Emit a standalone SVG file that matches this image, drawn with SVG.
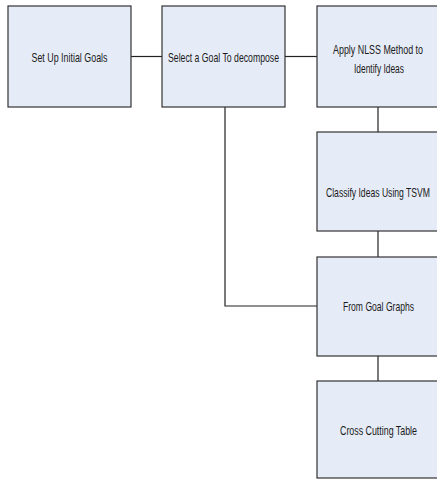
<svg xmlns="http://www.w3.org/2000/svg" width="437" height="479" viewBox="0 0 437 479">
<style>
.box{fill:#E6ECF7;stroke:#333333;stroke-width:1.2}
.lbl{font-family:"Liberation Sans",Arial,sans-serif;font-size:13px;fill:#1a1a1a;text-anchor:middle}
.con{fill:none;stroke:#222222;stroke-width:1.2}
</style>
<rect width="437" height="479" fill="#ffffff"/>
<g id="connectors">
<path class="con" d="M131,56.5 H162"/>
<path class="con" d="M285,56.5 H317"/>
<path class="con" d="M225,107 V306 H317"/>
<path class="con" d="M378,107 V132"/>
<path class="con" d="M378,231 V257"/>
<path class="con" d="M378,356 V381"/>
</g>
<g id="n1">
<rect class="box" x="8" y="6" width="123" height="101"/>
<text class="lbl" x="69.5" y="62" textLength="76" lengthAdjust="spacingAndGlyphs">Set Up Initial Goals</text>
</g>
<g id="n2">
<rect class="box" x="162" y="6" width="123" height="101"/>
<text class="lbl" x="223.5" y="62" textLength="111" lengthAdjust="spacingAndGlyphs">Select a Goal To decompose</text>
</g>
<g id="n3">
<rect class="box" x="317" y="6" width="123" height="101"/>
<text class="lbl" x="378" y="54" textLength="90" lengthAdjust="spacingAndGlyphs">Apply NLSS Method to</text>
<text class="lbl" x="379" y="73" textLength="50" lengthAdjust="spacingAndGlyphs">Identify Ideas</text>
</g>
<g id="n4">
<rect class="box" x="317" y="132" width="123" height="99"/>
<text class="lbl" x="378" y="197" textLength="104" lengthAdjust="spacingAndGlyphs">Classify Ideas Using TSVM</text>
</g>
<g id="n5">
<rect class="box" x="317" y="257" width="123" height="99"/>
<text class="lbl" x="378.5" y="311" textLength="71" lengthAdjust="spacingAndGlyphs">From Goal Graphs</text>
</g>
<g id="n6">
<rect class="box" x="317" y="381" width="123" height="97"/>
<text class="lbl" x="378.5" y="435" textLength="77" lengthAdjust="spacingAndGlyphs">Cross Cutting Table</text>
</g>
</svg>
